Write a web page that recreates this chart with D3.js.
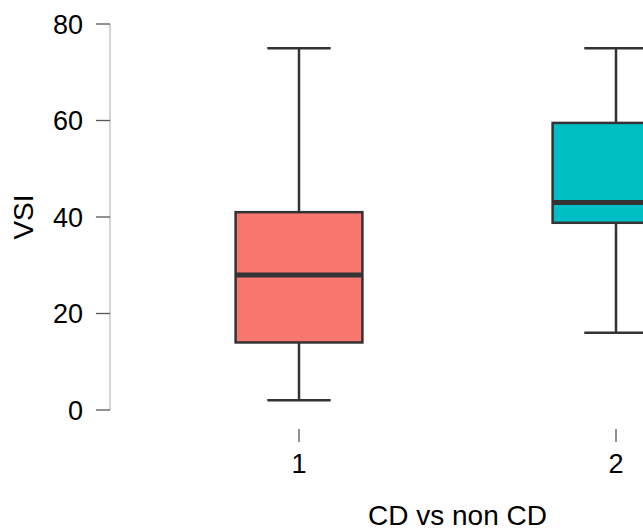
<!DOCTYPE html>
<html>
<head>
<meta charset="utf-8">
<script src="https://cdn.jsdelivr.net/npm/d3@7"></script>
<style>
  body { margin: 0; background: #fff; }
  text { font-family: "Liberation Sans", Arial, sans-serif; fill: #000; }
</style>
</head>
<body>
<div id="chart"></div>
<script>
// data
const groups = [1, 2];
const lowWhisker = [2, 16];
const q1 = [14, 38.8];
const medians = [28, 43];
const q3 = [41, 59.5];
const highWhisker = [75, 75];
const fills = ["#F8766D", "#00BFC4"];
const yTicks = [0, 20, 40, 60, 80];

const width = 643, height = 528;

const svg = d3.select("#chart").append("svg")
  .attr("width", width)
  .attr("height", height);

const y = d3.scaleLinear().domain([0, 80]).range([410, 24]);
const x = d3.scaleLinear().domain([1, 2]).range([299, 616]);
const boxW = (x(2) - x(1)) * 0.4;

// y axis
const yAxis = svg.append("g").attr("transform", "translate(110,0)");
yAxis.append("line")
  .attr("x1", 0).attr("x2", 0)
  .attr("y1", y(0)).attr("y2", y(80))
  .attr("stroke", "#aaa").attr("stroke-width", 1);
yAxis.selectAll("line.tick").data(yTicks).enter().append("line")
  .attr("class", "tick")
  .attr("x1", -14).attr("x2", 0)
  .attr("y1", d => y(d)).attr("y2", d => y(d))
  .attr("stroke", "#555").attr("stroke-width", 1.3);
yAxis.selectAll("text").data(yTicks).enter().append("text")
  .attr("x", -27)
  .attr("y", d => y(d))
  .attr("dy", "0.36em")
  .attr("text-anchor", "end")
  .style("font-size", "27px")
  .text(d => d);

svg.append("text")
  .attr("transform", "translate(33,217) rotate(-90)")
  .attr("text-anchor", "middle")
  .style("font-size", "28px")
  .text("VSI");

// x ticks
svg.selectAll("line.xtick").data(groups).enter().append("line")
  .attr("class", "xtick")
  .attr("x1", d => x(d)).attr("x2", d => x(d))
  .attr("y1", 429).attr("y2", 442)
  .attr("stroke", "#555").attr("stroke-width", 1.3);
svg.selectAll("text.xlab").data(groups).enter().append("text")
  .attr("class", "xlab")
  .attr("x", d => x(d))
  .attr("y", 473)
  .attr("text-anchor", "middle")
  .style("font-size", "27px")
  .text(d => d);

svg.append("text")
  .attr("x", (x(1) + x(2)) / 2)
  .attr("y", 525)
  .attr("text-anchor", "middle")
  .style("font-size", "28px")
  .text("CD vs non CD");

// boxes
const stroke = "#333";
const g = svg.selectAll("g.box").data(groups).enter().append("g").attr("class", "box");

g.append("line")
  .attr("x1", d => x(d)).attr("x2", d => x(d))
  .attr("y1", (d, i) => y(highWhisker[i])).attr("y2", (d, i) => y(q3[i]))
  .attr("stroke", stroke).attr("stroke-width", 2.5);
g.append("line")
  .attr("x1", d => x(d)).attr("x2", d => x(d))
  .attr("y1", (d, i) => y(q1[i])).attr("y2", (d, i) => y(lowWhisker[i]))
  .attr("stroke", stroke).attr("stroke-width", 2.5);
[highWhisker, lowWhisker].forEach(arr => {
  g.append("line")
    .attr("x1", d => x(d) - boxW / 4).attr("x2", d => x(d) + boxW / 4)
    .attr("y1", (d, i) => y(arr[i])).attr("y2", (d, i) => y(arr[i]))
    .attr("stroke", stroke).attr("stroke-width", 2.5);
});
g.append("rect")
  .attr("x", d => x(d) - boxW / 2)
  .attr("width", boxW)
  .attr("y", (d, i) => y(q3[i]))
  .attr("height", (d, i) => y(q1[i]) - y(q3[i]))
  .attr("fill", (d, i) => fills[i])
  .attr("stroke", stroke).attr("stroke-width", 2.5);
g.append("line")
  .attr("x1", d => x(d) - boxW / 2).attr("x2", d => x(d) + boxW / 2)
  .attr("y1", (d, i) => y(medians[i])).attr("y2", (d, i) => y(medians[i]))
  .attr("stroke", stroke).attr("stroke-width", 5);
</script>
</body>
</html>
